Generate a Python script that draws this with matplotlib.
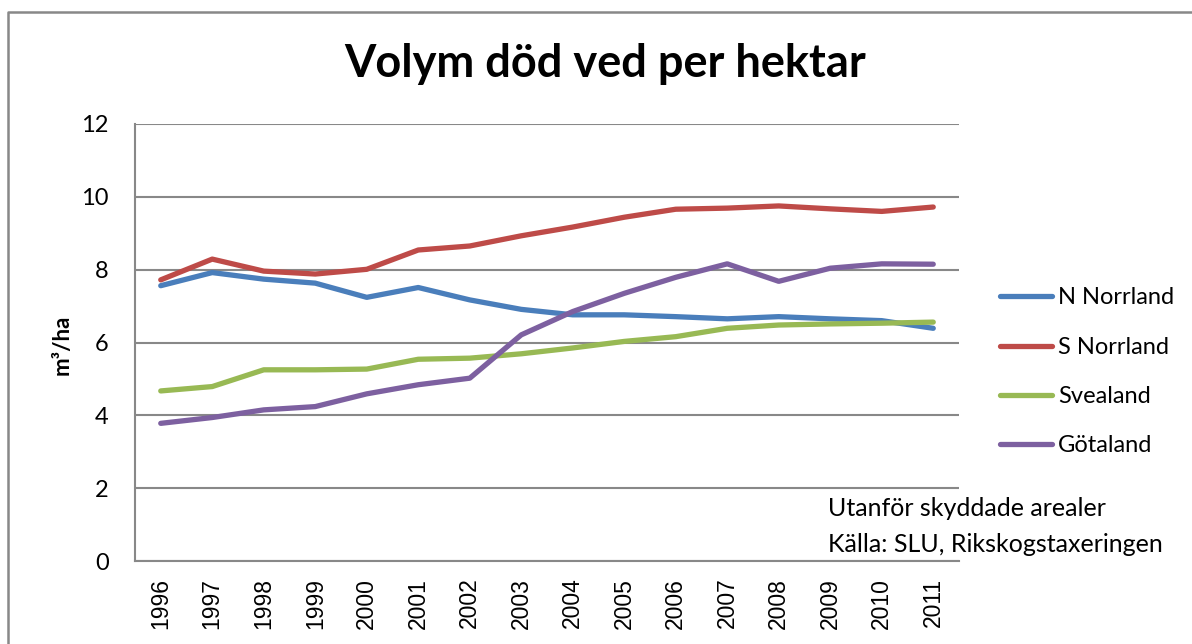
import matplotlib.pyplot as plt
from matplotlib.lines import Line2D

years = [str(y) for y in range(1996, 2012)]
n_norrland = [7.56, 7.92, 7.74, 7.63, 7.24, 7.51, 7.17, 6.91, 6.76, 6.76, 6.71, 6.65, 6.71, 6.65, 6.60, 6.39]
s_norrland = [7.72, 8.29, 7.96, 7.88, 8.01, 8.54, 8.65, 8.93, 9.17, 9.44, 9.66, 9.69, 9.75, 9.67, 9.60, 9.72]
svealand = [4.67, 4.79, 5.25, 5.25, 5.27, 5.54, 5.57, 5.69, 5.85, 6.03, 6.16, 6.39, 6.48, 6.51, 6.53, 6.56]
gotaland = [3.78, 3.94, 4.15, 4.24, 4.59, 4.84, 5.02, 6.21, 6.85, 7.35, 7.79, 8.16, 7.68, 8.04, 8.16, 8.15]

series = [
    ("N Norrland", n_norrland, "#4A7EBB"),
    ("S Norrland", s_norrland, "#BE4B48"),
    ("Svealand", svealand, "#98B954"),
    ("Götaland", gotaland, "#7D60A0"),
]

W, H = 1192, 644
plt.rcParams['font.family'] = ['Lato', 'DejaVu Sans']

fig = plt.figure(figsize=(W / 100, H / 100), dpi=100)
ax = fig.add_axes([135 / W, 1 - 561 / H, (959 - 135) / W, (561 - 124) / H])

x = range(len(years))
for name, vals, col in series:
    ax.plot(x, vals, color=col, lw=3.8, solid_capstyle='round', label=name)

ax.set_xlim(-0.5, len(years) - 0.5)
ax.set_ylim(0, 12)
ax.set_yticks(range(0, 13, 2))
ax.set_xticks(list(x))
ax.set_xticklabels(years, rotation=90, fontfamily='Liberation Sans', fontsize=16.5)
ax.tick_params(axis='y', labelsize=17, length=0, pad=19)
ax.tick_params(axis='x', length=0, pad=12)
ax.grid(axis='y', color='#888888', lw=1.5)
ax.set_axisbelow(True)
for s in ['top', 'right']:
    ax.spines[s].set_visible(False)
for s in ['left', 'bottom']:
    ax.spines[s].set_color('#888888')
    ax.spines[s].set_linewidth(1.5)

fig.text(62 / W, 1 - 345 / H, "m³/ha", rotation=90, fontsize=16, fontweight='bold',
         ha='center', va='center')
fig.text(605 / W, 1 - 64 / H, "Volym död ved per hektar", fontsize=32.5, fontweight='bold',
         ha='center', va='center')

handles = [Line2D([], [], color=c, lw=3.8, solid_capstyle='round') for _, _, c in series]
fig.legend(handles, [n for n, _, _ in series], loc='center left',
           bbox_to_anchor=(1000 / W, 1 - 372 / H), frameon=False, fontsize=17,
           handlelength=2.2, handletextpad=0.25, labelspacing=1.2,
           borderpad=0, borderaxespad=0)

fig.text(828 / W, 1 - 508 / H, "Utanför skyddade arealer", fontsize=18, va='center')
fig.text(828 / W, 1 - 545 / H, "Källa: SLU, Rikskogstaxeringen", fontsize=18, va='center')

# chart frame (only top and left edges visible)
fig.add_artist(Line2D([8 / W, 8 / W, 1], [0, 1 - 11.5 / H, 1 - 11.5 / H],
                      transform=fig.transFigure, color='#888888', lw=1.8))

fig.savefig("out.png", dpi=100)
